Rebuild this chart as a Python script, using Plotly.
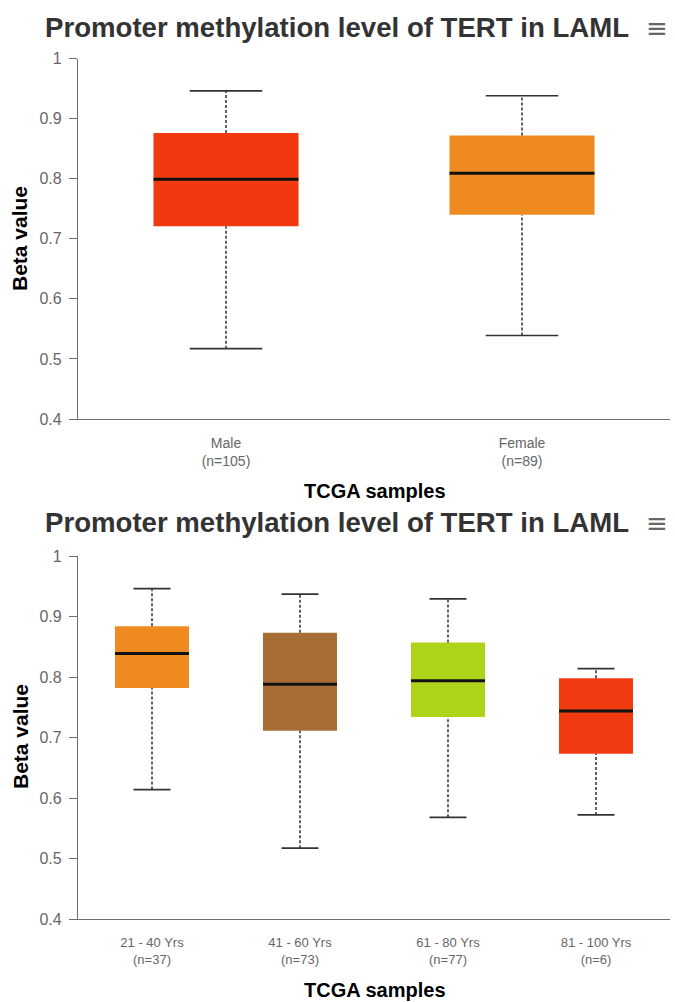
import plotly.graph_objects as go

W, H = 675, 1002

TITLE = "Promoter methylation level of TERT in LAML"
X_TITLE = "TCGA samples"
Y_TITLE = "Beta value"

sex_groups = ["Male<br>(n=105)", "Female<br>(n=89)"]
sex_lower = [0.517, 0.539]
sex_q1 = [0.721, 0.740]
sex_median = [0.799, 0.809]
sex_q3 = [0.876, 0.872]
sex_upper = [0.946, 0.938]
sex_colors = ["#F0390F", "#EE8A20"]

age_groups = ["21 - 40 Yrs<br>(n=37)", "41 - 60 Yrs<br>(n=73)",
              "61 - 80 Yrs<br>(n=77)", "81 - 100 Yrs<br>(n=6)"]
age_lower = [0.614, 0.517, 0.568, 0.572]
age_q1 = [0.782, 0.711, 0.734, 0.673]
age_median = [0.839, 0.788, 0.794, 0.744]
age_q3 = [0.884, 0.873, 0.857, 0.798]
age_upper = [0.946, 0.937, 0.929, 0.814]
age_colors = ["#EE8A20", "#A86D35", "#AED41A", "#F03A10"]

FONT = "Arial, Liberation Sans, sans-serif"

def px_y(p):
    return 1 - p / H

def px_x(p):
    return p / W

fig = go.Figure()

def add_boxes(groups, lo, q1, med, q3, hi, colors, xa, ya, box_w):
    n = len(groups)
    xs = list(range(n))
    fig.add_trace(go.Bar(
        x=xs, y=[b - a for a, b in zip(q1, q3)], base=q1, width=box_w,
        marker=dict(color=colors, line=dict(width=0)),
        xaxis=xa, yaxis=ya, showlegend=False, hoverinfo="skip"))
    cap = box_w / 2
    for i in xs:
        # whiskers (dashed)
        fig.add_trace(go.Scatter(
            x=[i, i, None, i, i], y=[lo[i], q1[i], None, q3[i], hi[i]],
            mode="lines", line=dict(color="#222222", width=1.4, dash="3px,2px"),
            xaxis=xa, yaxis=ya, showlegend=False, hoverinfo="skip"))
        # caps
        fig.add_trace(go.Scatter(
            x=[i - cap / 2, i + cap / 2, None, i - cap / 2, i + cap / 2],
            y=[lo[i], lo[i], None, hi[i], hi[i]],
            mode="lines", line=dict(color="#333333", width=1.7),
            xaxis=xa, yaxis=ya, showlegend=False, hoverinfo="skip"))
        # median
        fig.add_trace(go.Scatter(
            x=[i - box_w / 2, i + box_w / 2], y=[med[i], med[i]],
            mode="lines", line=dict(color="#111111", width=3),
            xaxis=xa, yaxis=ya, showlegend=False, hoverinfo="skip"))

add_boxes(sex_groups, sex_lower, sex_q1, sex_median, sex_q3, sex_upper,
          sex_colors, "x", "y", 0.49)
add_boxes(age_groups, age_lower, age_q1, age_median, age_q3, age_upper,
          age_colors, "x2", "y2", 0.50)

x_dom = [px_x(78), px_x(670)]
top_dom = [px_y(419), px_y(58.5)]
bot_dom = [px_y(919), px_y(556)]

yax_common = dict(
    range=[0.4, 1], tickvals=[0.4, 0.5, 0.6, 0.7, 0.8, 0.9, 1.0],
    showgrid=False, zeroline=False, showline=True, linecolor="#6e6e6e",
    linewidth=1.3, ticks="outside", ticklen=8, tickcolor="#6e6e6e",
    tickwidth=1.3, tickfont=dict(family=FONT, size=16, color="#666666"),
    fixedrange=True, automargin=False, ticklabelstandoff=4)

xax_common = dict(
    showgrid=False, zeroline=False, showline=True, linecolor="#6e6e6e",
    linewidth=1.3, ticks="", fixedrange=True, automargin=False,
    ticklabelstandoff=11)

fig.update_layout(
    width=W, height=H, margin=dict(l=0, r=0, t=0, b=0, autoexpand=False),
    paper_bgcolor="white", plot_bgcolor="white", barmode="overlay",
    showlegend=False,
    xaxis=dict(domain=x_dom, anchor="y", range=[-0.5, 1.5],
               tickvals=list(range(len(sex_groups))), ticktext=sex_groups,
               tickfont=dict(family=FONT, size=14, color="#666666"),
               **xax_common),
    yaxis=dict(domain=top_dom, anchor="x", **yax_common),
    xaxis2=dict(domain=x_dom, anchor="y2", range=[-0.5, 3.5],
                tickvals=list(range(len(age_groups))), ticktext=age_groups,
                tickfont=dict(family=FONT, size=13, color="#666666"),
                **xax_common),
    yaxis2=dict(domain=bot_dom, anchor="x2", **yax_common),
)

ann = []
for ty, ylab_y, xlab_y in [(27, 239, 491), (522, 737, 990)]:
    ann.append(dict(text=f"<b>{TITLE}</b>", x=px_x(337), y=px_y(ty),
                    xref="paper", yref="paper", xanchor="center", yanchor="middle",
                    showarrow=False,
                    font=dict(family=FONT, size=27.6, color="#333333")))
    ann.append(dict(text="≡", x=px_x(657), y=px_y(ty + 1),
                    xref="paper", yref="paper", xanchor="center", yanchor="middle",
                    showarrow=False,
                    font=dict(family="DejaVu Sans", size=26, color="#666666")))
    ann.append(dict(text=f"<b>{Y_TITLE}</b>", x=px_x(20), y=px_y(ylab_y),
                    xref="paper", yref="paper", xanchor="center", yanchor="middle",
                    textangle=-90, showarrow=False,
                    font=dict(family=FONT, size=21, color="#000000")))
    ann.append(dict(text=f"<b>{X_TITLE}</b>", x=px_x(375), y=px_y(xlab_y),
                    xref="paper", yref="paper", xanchor="center", yanchor="middle",
                    showarrow=False,
                    font=dict(family=FONT, size=20, color="#000000")))
fig.update_layout(annotations=ann)

fig.write_html("out.html", config={"displayModeBar": False})
